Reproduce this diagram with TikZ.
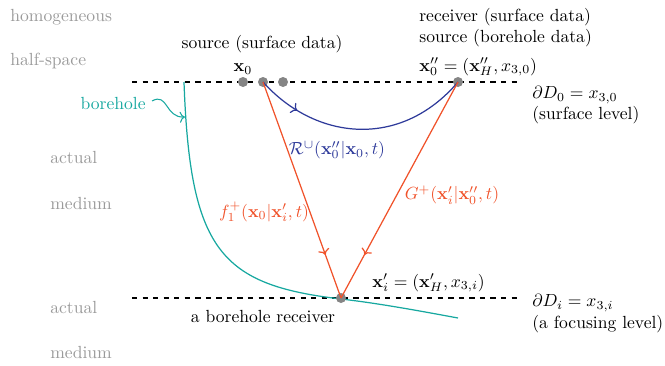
\documentclass[tikz,border=0pt]{standalone}
\usepackage{amsmath,amssymb}
\usetikzlibrary{decorations.markings,arrows.meta}
\definecolor{rd}{HTML}{F0522A}
\definecolor{bl}{HTML}{2E3A9A}
\definecolor{tl}{HTML}{17A8A0}
\definecolor{gr}{HTML}{9A9A9A}
\definecolor{dotc}{HTML}{858585}
\begin{document}
\begin{tikzpicture}[x=0.02cm,y=-0.02cm,
  graytxt/.style={text=gr,anchor=west,inner sep=0pt},
  txt/.style={anchor=west,inner sep=0pt},
  ctxt/.style={inner sep=0pt},
  lvl/.style={dashed,line width=0.6pt},
  pt/.style={circle,fill=dotc,minimum size=10*0.02cm,inner sep=0pt},
  midarrow/.style={postaction={decorate},decoration={markings,mark=at position #1 with {\arrow{>}}}}
]
\useasboundingbox (0,0) rectangle (665,365);
% gray texts
\node[graytxt] (h1) at (10,17) {homogeneous};
\node[graytxt] (h2) at (10,61) {half-space};
\node[graytxt] (a1) at (50,157) {actual};
\node[graytxt] (m1) at (50,203) {medium};
\node[graytxt] (a2) at (50,307) {actual};
\node[graytxt] (m2) at (50,352) {medium};
% levels
\coordinate (l0a) at (132,82); \coordinate (l0b) at (522,82);
\coordinate (lia) at (132,298); \coordinate (lib) at (522,298);
\draw[lvl] (l0a) -- (l0b);
\draw[lvl] (lia) -- (lib);
% points
\node[pt] (s1) at (243,82) {};
\node[pt] (s0) at (263,82) {};
\node[pt] (s2) at (283,82) {};
\node[pt] (r0) at (458,82) {};
% borehole
\coordinate (bt) at (184,82);
\coordinate (bb) at (458,318);
\draw[tl,line width=0.7pt] (bt) .. controls (190,250) and (220,285) .. (341,299) .. controls (380,303.5) and (420,311) .. (bb);
\node[pt] (ri) at (341,298) {};
\node[text=tl,anchor=east,inner sep=0pt] (bh) at (146,103) {borehole};
\coordinate (bhe) at (185,117);
\draw[tl,line width=0.6pt,-{To[length=3pt]}] (bh.east) ++(6,-2) .. controls (168,92) and (165,118) .. (bhe);
% rays
\draw[bl,line width=0.7pt,midarrow=0.2] (s0.center) .. controls (315,140) and (400,150) .. (r0.center);
\draw[rd,line width=0.7pt,midarrow=0.8] (s0.center) -- (ri.center);
\draw[rd,line width=0.7pt,midarrow=0.8] (r0.center) -- (ri.center);
% labels
\node[ctxt] (srcl) at (262,44) {source (surface data)};
\node[ctxt] (x0l) at (243,69) {$\mathbf{x}_0$};
\node[txt] (rcv1) at (419,17) {receiver (surface data)};
\node[txt] (rcv2) at (419,38) {source (borehole data)};
\node[txt] (x0pp) at (419,67) {$\mathbf{x}_0''=(\mathbf{x}_H'',x_{3,0})$};
\node[txt] (d0) at (532,95) {$\partial D_0=x_{3,0}$};
\node[txt] (d0b) at (532,115) {(surface level)};
\node[txt] (di) at (532,303) {$\partial D_i=x_{3,i}$};
\node[txt] (dib) at (532,324) {(a focusing level)};
\node[txt] (xip) at (372,283) {$\mathbf{x}_i'=(\mathbf{x}_H',x_{3,i})$};
\node[ctxt] (brl) at (263,316) {a borehole receiver};
\node[ctxt,text=bl] (rl) at (337,150) {$\mathcal{R}^{\cup}(\mathbf{x}_0''|\mathbf{x}_0,t)$};
\node[ctxt,text=rd] (fl) at (264,212) {$f_1^{+}(\mathbf{x}_0|\mathbf{x}_i',t)$};
\node[ctxt,text=rd] (gl) at (452,195) {$G^{+}(\mathbf{x}_i'|\mathbf{x}_0'',t)$};
\end{tikzpicture}
\end{document}
